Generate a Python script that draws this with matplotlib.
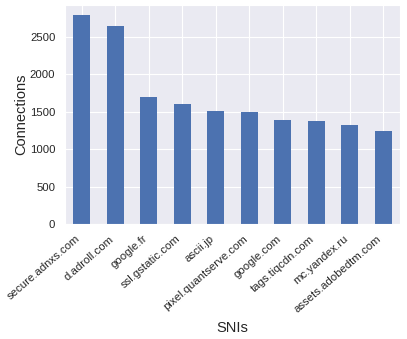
import matplotlib
matplotlib.use("Agg")
import matplotlib.pyplot as plt
import seaborn as sns

snis = ["secure.adnxs.com", "d.adroll.com", "google.fr", "ssl.gstatic.com", "ascii.jp",
        "pixel.quantserve.com", "google.com", "tags.tiqcdn.com", "mc.yandex.ru", "assets.adobedtm.com"]
connections = [2786, 2651, 1696, 1602, 1507, 1494, 1386, 1373, 1319, 1238]

sns.set_style("darkgrid")
plt.rcParams['font.family'] = ['Liberation Sans', 'DejaVu Sans']

fig = plt.figure(figsize=(4.07, 3.39), dpi=100)
ax = fig.add_axes([65/407, 1 - 224/339, 335/407, 219/339])
x = list(range(len(snis)))
ax.bar(x, connections, width=0.5, color="#4C72B0", linewidth=0)
ax.set_xlim(-0.5, len(snis) - 0.5)
ax.set_ylim(0, max(connections) * 1.05)
ax.set_xticks(x)
ax.set_xticklabels(snis, rotation=41, ha="right", fontsize=8.2)
ax.tick_params(axis="y", labelsize=8.2)
ax.set_ylabel("Connections", fontsize=10.5, labelpad=1)
ax.set_xlabel("SNIs", fontsize=10.5, labelpad=5)
fig.savefig("out.png", dpi=100)
